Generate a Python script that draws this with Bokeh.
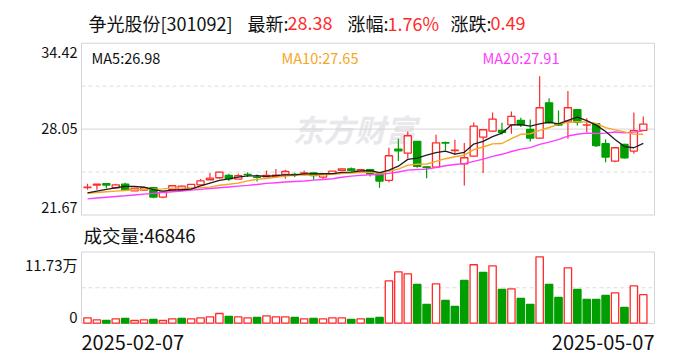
import numpy as np
from bokeh.plotting import figure
from bokeh.models import Range1d, ColumnDataSource
from bokeh.core.properties import value
from bokeh.embed import file_html
from bokeh.resources import INLINE

# ---------------- data ----------------
stock_title = "争光股份[301092]"
last_price = "28.38"
pct_change = "1.76%"
abs_change = "0.49"
start_date = "2025-02-07"
end_date = "2025-05-07"
price_max, price_mid, price_min = 34.42, 28.05, 21.67
price_tick_labels = ["34.42", "28.05", "21.67"]
vol_max = 117300
vol_tick_labels = ["11.73万", "0"]
ma_labels = ["MA5:26.98", "MA10:27.65", "MA20:27.91"]
volume_label = "成交量:46846"

open_ = [23.62, 23.80, 23.90, 23.60, 23.87, 23.37, 23.42, 23.60, 22.90, 23.45,
         23.45, 23.55, 23.82, 24.20, 24.35, 24.52, 24.25, 24.60, 24.40, 24.42,
         24.45, 24.60, 24.60, 24.70, 24.72, 24.40, 24.65, 24.90, 25.02, 24.77,
         24.95, 24.65, 24.15, 26.50, 26.20, 27.07, 25.17, 25.15, 26.98, 26.38,
         25.40, 25.97, 27.40, 27.85, 27.90, 28.32, 28.65, 27.97, 27.32, 29.97,
         28.40, 28.60, 29.45, 28.30, 28.40, 26.90, 25.60, 26.85, 26.35, 27.90]
high = [23.90, 23.87, 23.90, 23.90, 23.97, 23.60, 23.70, 23.62, 23.27, 23.75,
        23.77, 23.87, 24.25, 24.70, 24.80, 24.65, 24.65, 24.77, 24.60, 24.90,
        25.00, 24.95, 24.72, 24.90, 24.72, 24.65, 24.85, 25.05, 25.12, 25.00,
        24.97, 24.65, 26.60, 27.27, 27.82, 27.10, 25.22, 27.57, 27.07, 27.20,
        26.95, 28.50, 27.95, 29.25, 28.47, 29.32, 28.85, 28.72, 31.97, 30.32,
        29.40, 30.85, 29.45, 28.82, 28.40, 27.22, 26.60, 26.90, 29.25, 28.95]
low = [23.45, 23.45, 23.57, 23.60, 23.42, 23.35, 23.37, 22.82, 22.82, 23.42,
       23.42, 23.50, 23.80, 24.20, 24.30, 24.10, 24.25, 24.40, 24.07, 24.40,
       24.42, 24.27, 24.40, 24.52, 24.20, 24.20, 24.62, 24.85, 24.82, 24.75,
       24.45, 23.60, 24.02, 25.60, 25.80, 25.10, 24.32, 25.10, 26.40, 26.10,
       23.77, 25.95, 24.70, 27.80, 27.60, 27.65, 28.15, 27.07, 27.30, 28.40,
       28.25, 27.27, 28.27, 27.77, 26.65, 25.52, 25.52, 25.80, 26.15, 27.90]
close = [23.65, 23.87, 23.80, 23.82, 23.42, 23.57, 23.60, 22.90, 23.27, 23.75,
         23.72, 23.85, 24.12, 24.32, 24.77, 24.27, 24.50, 24.58, 24.38, 24.52,
         24.55, 24.82, 24.58, 24.72, 24.52, 24.62, 24.85, 25.02, 24.90, 24.95,
         24.67, 24.10, 26.00, 26.37, 27.50, 25.20, 25.12, 26.97, 26.95, 26.42,
         25.85, 28.22, 27.95, 28.75, 27.75, 28.95, 28.32, 27.32, 29.60, 28.47,
         28.30, 29.60, 28.52, 28.32, 26.77, 25.90, 26.60, 25.85, 27.89, 28.38]
volume = [8900, 5600, 4400, 7200, 7700, 4400, 5600, 6100, 4400, 7200,
          7700, 7200, 8900, 10500, 15900, 11000, 10500, 8900, 9400, 12100,
          10500, 10500, 9400, 7200, 7700, 7200, 8900, 8900, 6100, 7200,
          7700, 9400, 69600, 84400, 81100, 63600, 30700, 64700, 37300, 27400,
          70200, 96000, 83300, 94300, 55400, 56500, 40600, 30700, 109100, 63600,
          42200, 91000, 55400, 38900, 38900, 45500, 49900, 25800, 61400, 46846]
ma5 = [23.22, 23.35, 23.48, 23.60, 23.71, 23.70, 23.64, 23.46, 23.35, 23.42,
       23.45, 23.50, 23.74, 23.95, 24.16, 24.27, 24.40, 24.49, 24.50, 24.45,
       24.51, 24.57, 24.57, 24.64, 24.64, 24.65, 24.66, 24.75, 24.78, 24.87,
       24.88, 24.73, 24.92, 25.22, 25.73, 25.83, 26.04, 26.23, 26.35, 26.13,
       26.26, 26.88, 27.08, 27.44, 27.70, 28.32, 28.34, 28.22, 28.39, 28.53,
       28.40, 28.66, 28.90, 28.64, 28.30, 27.82, 27.22, 26.69, 26.60, 26.93]
ma10 = [23.19, 23.25, 23.30, 23.35, 23.40, 23.44, 23.47, 23.50, 23.52, 23.57,
        23.57, 23.57, 23.60, 23.65, 23.79, 23.86, 23.95, 24.12, 24.23, 24.30,
        24.39, 24.48, 24.53, 24.57, 24.54, 24.58, 24.61, 24.66, 24.71, 24.75,
        24.77, 24.69, 24.84, 25.00, 25.30, 25.36, 25.38, 25.58, 25.78, 25.93,
        26.05, 26.46, 26.66, 26.89, 26.92, 27.29, 27.61, 27.65, 27.91, 28.12,
        28.36, 28.50, 28.56, 28.52, 28.42, 28.11, 27.94, 27.79, 27.62, 27.61]
ma20 = [22.77, 22.83, 22.89, 22.95, 23.00, 23.06, 23.12, 23.18, 23.24, 23.30,
        23.36, 23.42, 23.48, 23.54, 23.60, 23.66, 23.72, 23.78, 23.85, 23.93,
        23.98, 24.03, 24.07, 24.11, 24.17, 24.22, 24.28, 24.39, 24.47, 24.53,
        24.58, 24.59, 24.68, 24.78, 24.92, 24.97, 25.00, 25.12, 25.25, 25.34,
        25.41, 25.58, 25.75, 25.95, 26.11, 26.32, 26.50, 26.61, 26.85, 27.02,
        27.21, 27.48, 27.61, 27.70, 27.67, 27.70, 27.78, 27.72, 27.77, 27.87]

# ---------------- layout (pixels) ----------------
W, H = 688, 360
BOX_L, BOX_R = 81, 654
P_BOX_T, P_BOX_B = 42.7, 214.5
V_BOX_T, V_BOX_B = 251.5, 323
X0, DX = 87.0, 9.42            # first candle centre, spacing
PY_TOP, PY_BOT = 43.0, 213.0    # pixel rows of price_max / price_min
VY_TOP, VY_BOT = 251.3, 322.7   # pixel rows of vol_max / 0

RED = "#ff2b2b"
GREEN = "#009e00"
FONT = "Noto Sans CJK SC"

def price_at(py):
    return price_max - (py - PY_TOP) * (price_max - price_min) / (PY_BOT - PY_TOP)

def vol_at(py):
    return vol_max * (VY_BOT - py) / (VY_BOT - VY_TOP)

n = len(close)
idx = np.arange(n)
o = np.array(open_); c = np.array(close); hi = np.array(high); lo = np.array(low)
up = c >= o
candle_color = [RED if u else GREEN for u in up]
candle_fill = ["white" if u else GREEN for u in up]
vol_up = [True] + [close[i] >= close[i - 1] for i in range(1, n)]
vol_color = [RED if u else GREEN for u in vol_up]
vol_fill = ["white" if u else GREEN for u in vol_up]

src = ColumnDataSource(dict(
    x=idx, o=o, c=c, h=hi, l=lo,
    top=np.maximum(o, c), bot=np.minimum(o, c),
    col=candle_color, fill=candle_fill,
    vol=volume, vcol=vol_color, vfill=vol_fill,
    ma5=ma5, ma10=ma10, ma20=ma20,
))

p = figure(width=W, height=H, output_backend="svg", toolbar_location=None,
           x_range=Range1d((0 - X0) / DX, (W - X0) / DX),
           y_range=Range1d(price_at(H), price_at(0)),
           x_axis_location=None, y_axis_location=None, title=None,
           min_border=0, min_border_left=0, min_border_right=0,
           min_border_top=0, min_border_bottom=0, outline_line_color=None)
p.extra_x_ranges = {"px": Range1d(0, W)}
p.extra_y_ranges = {"py": Range1d(H, 0), "vol": Range1d(vol_at(H), vol_at(0))}
p.xgrid.grid_line_color = None
p.ygrid.grid_line_color = None
p.background_fill_color = "white"
p.border_fill_color = "white"

PX = dict(x_range_name="px", y_range_name="py")

def txt(x, y, s, size, color="#111111", align="left", baseline="middle",
        style="normal", **kw):
    p.text(x=[x], y=[y], text=[s], text_font=value(FONT),
           text_font_size=f"{size}px", text_color=color, text_align=align,
           text_baseline=baseline, text_font_style=style, **kw)

# watermark
txt(292, 128, "东方财富", 31, color="#e8e8ec", style="bold italic", **PX)

# panel frames and guide lines
p.quad(left=[BOX_L], right=[BOX_R], top=[P_BOX_T], bottom=[P_BOX_B],
       fill_color=None, line_color="#d4d4d8", line_width=1, **PX)
p.quad(left=[BOX_L], right=[BOX_R], top=[V_BOX_T], bottom=[V_BOX_B],
       fill_color=None, line_color="#d4d4d8", line_width=1, **PX)
q = (P_BOX_B - P_BOX_T) / 4
p.segment(x0=[BOX_L, BOX_L], x1=[BOX_R, BOX_R],
          y0=[P_BOX_T + q, P_BOX_T + 3 * q], y1=[P_BOX_T + q, P_BOX_T + 3 * q],
          line_color="#dcdcdc", line_dash="4 3", line_width=1, **PX)
p.segment(x0=[BOX_L], x1=[BOX_R], y0=[P_BOX_T + 2 * q], y1=[P_BOX_T + 2 * q],
          line_color="#d6d6d6", line_width=1, **PX)
vm = (V_BOX_T + V_BOX_B) / 2
p.segment(x0=[BOX_L], x1=[BOX_R], y0=[vm], y1=[vm],
          line_color="#dcdcdc", line_dash="4 3", line_width=1, **PX)

# candles
p.segment(x0="x", x1="x", y0="h", y1="l", line_color="col", line_width=1.2, source=src)
p.vbar(x="x", top="top", bottom="bot", width=0.76, fill_color="fill",
       line_color="col", line_width=1.3, source=src)

# moving averages
p.line("x", "ma20", source=src, line_color="#ff3cff", line_width=1.4)
p.line("x", "ma10", source=src, line_color="#f5a623", line_width=1.4)
p.line("x", "ma5", source=src, line_color="#1e1e1e", line_width=1.3)

# volume
p.vbar(x="x", top="vol", bottom=0, width=0.78, fill_color="vfill",
       line_color="vcol", line_width=1.3, source=src, y_range_name="vol")

# header
txt(88, 22, stock_title, 18, **PX)
txt(247, 22, "最新:", 18, **PX)
txt(287, 22, last_price, 18, color=RED, **PX)
txt(347, 22, "涨幅:", 18, **PX)
txt(387, 22, pct_change, 18, color=RED, **PX)
txt(450, 22, "涨跌:", 18, **PX)
txt(490, 22, abs_change, 18, color=RED, **PX)

# MA legend
txt(91, 57, ma_labels[0], 14.5, color="#111111", **PX)
txt(281, 57, ma_labels[1], 14.5, color="#f5a623", **PX)
txt(482, 57, ma_labels[2], 14.5, color="#ff3cff", **PX)

# price labels
p.text(x=[77], y=[price_max], text=[price_tick_labels[0]], text_font=value(FONT),
       text_font_size="14.5px", text_color="#111111", text_align="right",
       text_baseline="top", y_offset=3, x_range_name="px")
p.text(x=[77], y=[price_mid], text=[price_tick_labels[1]], text_font=value(FONT),
       text_font_size="14.5px", text_color="#111111", text_align="right",
       text_baseline="middle", x_range_name="px")
p.text(x=[77], y=[price_min], text=[price_tick_labels[2]], text_font=value(FONT),
       text_font_size="14.5px", text_color="#111111", text_align="right",
       text_baseline="bottom", y_offset=-1, x_range_name="px")

# volume labels
txt(83, 234, volume_label, 18.5, **PX)
p.text(x=[77], y=[vol_max], text=[vol_tick_labels[0]], text_font=value(FONT),
       text_font_size="15px", text_color="#111111", text_align="right",
       text_baseline="top", y_offset=2, x_range_name="px", y_range_name="vol")
p.text(x=[77], y=[0], text=[vol_tick_labels[1]], text_font=value(FONT),
       text_font_size="15px", text_color="#111111", text_align="right",
       text_baseline="bottom", x_range_name="px", y_range_name="vol")

# date labels
txt(BOX_L, 342, start_date, 20, **PX)
txt(BOX_R, 342, end_date, 20, align="right", **PX)

open("out.html", "w").write(file_html(p, INLINE))
